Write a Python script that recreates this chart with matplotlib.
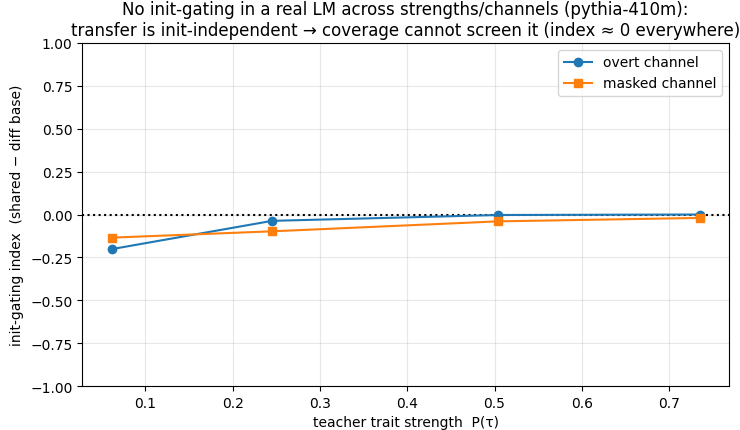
import matplotlib
matplotlib.use("Agg")
import matplotlib.pyplot as plt

# teacher trait strength P(tau)
strength = [0.0614, 0.2453, 0.5040, 0.7347]
overt = [-0.202, -0.037, -0.003, 0.0]
masked = [-0.135, -0.098, -0.040, -0.020]

fig, ax = plt.subplots(figsize=(7.4, 4.31), dpi=100)
fig.subplots_adjust(left=0.111, right=0.985, top=0.898, bottom=0.102)

ax.axhline(0, color='black', linestyle=':', linewidth=1.5)
ax.plot(strength, overt, marker='o', color='#1f77b4', label='overt channel')
ax.plot(strength, masked, marker='s', color='#ff7f0e', label='masked channel')

ax.set_ylim(-1, 1)
ax.grid(alpha=0.3)
ax.set_xlabel("teacher trait strength  P(τ)")
ax.set_ylabel("init-gating index  (shared − diff base)")
ax.set_title("No init-gating in a real LM across strengths/channels (pythia-410m):\n"
             "transfer is init-independent → coverage cannot screen it (index ≈ 0 everywhere)",
             fontsize=12)
ax.legend(loc='upper right')

fig.savefig("out.png")
